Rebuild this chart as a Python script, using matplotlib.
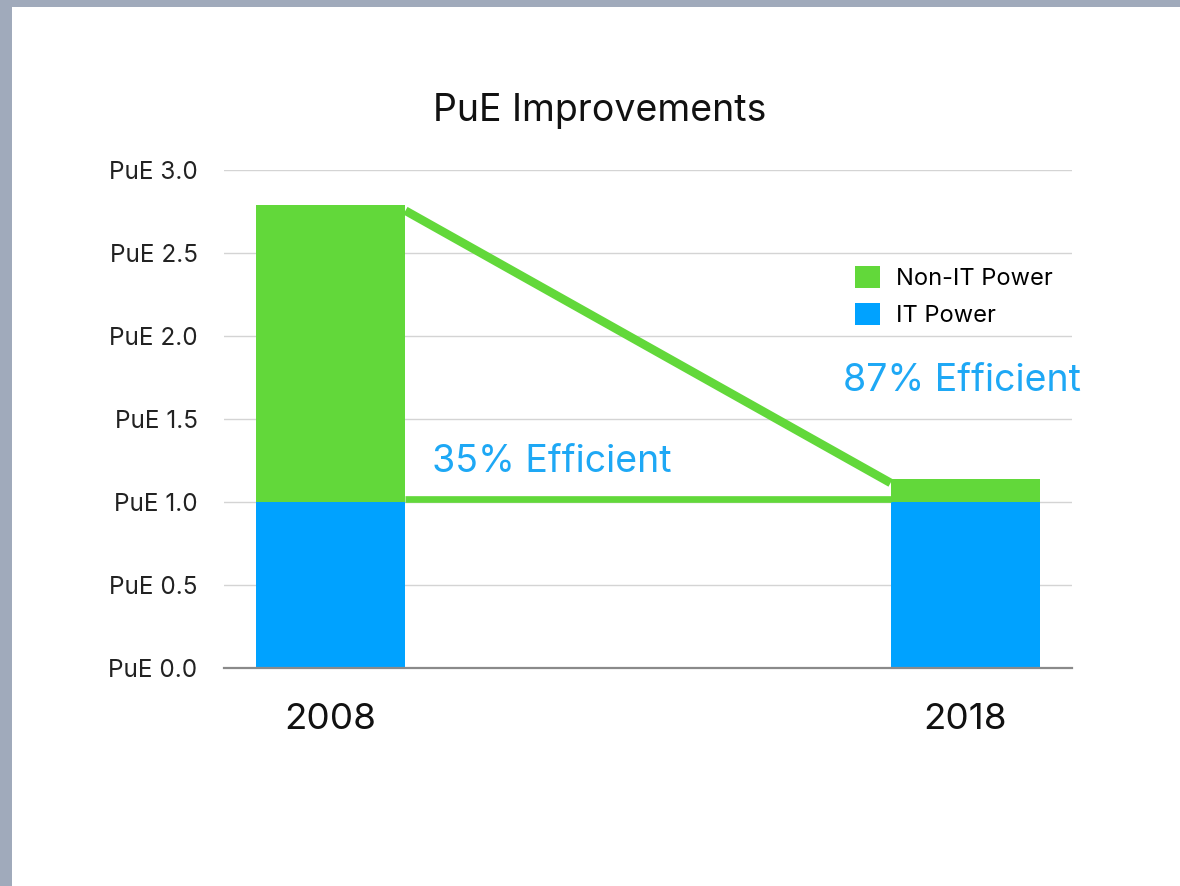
import matplotlib
matplotlib.use("Agg")
import matplotlib.pyplot as plt
from matplotlib.patches import Patch, Rectangle

plt.rcParams['font.family'] = ['Inter', 'DejaVu Sans']

years = ["2008", "2018"]
it_power = [1.0, 1.0]
non_it_power = [1.79, 0.14]
efficiency_labels = ["35% Efficient", "87% Efficient"]
y_ticks = [0.0, 0.5, 1.0, 1.5, 2.0, 2.5, 3.0]
y_tick_labels = ["PuE 0.0", "PuE 0.5", "PuE 1.0", "PuE 1.5", "PuE 2.0", "PuE 2.5", "PuE 3.0"]

GREEN = "#62d83a"
BLUE = "#00a2ff"
TEXT_BLUE = "#1ea8f5"

W, H = 1180, 886
fig = plt.figure(figsize=(W / 100, H / 100), dpi=100)
fig.patch.set_facecolor("#a0aabb")
fig.add_artist(Rectangle((12 / W, 0), 1 - 12 / W, 1 - 7 / H, transform=fig.transFigure,
                         facecolor="white", edgecolor="none", zorder=0))

ax = fig.add_axes([224 / W, 1 - 668 / H, 848 / W, (668 - 170) / H])
ax.set_facecolor("none")

x = [0, 1]
bw = 0.236
ax.bar(x, it_power, width=bw, color=BLUE, zorder=3, label="IT Power")
ax.bar(x, non_it_power, width=bw, bottom=it_power, color=GREEN, zorder=3, label="Non-IT Power")

# efficiency outline (triangle)
x1r = x[0] + bw / 2
x2l = x[1] - bw / 2
top1 = it_power[0] + non_it_power[0]
top2 = it_power[1] + non_it_power[1]
ax.plot([x1r, x2l], [top1 - 0.035, top2 - 0.025], color=GREEN, lw=6.2, zorder=4,
        solid_capstyle="butt")
ax.plot([x1r, x2l], [1.02, 1.02], color=GREEN, lw=4.8, zorder=4, solid_capstyle="butt")

ax.text(0.16, 1.24, efficiency_labels[0], color=TEXT_BLUE, fontsize=27, va="center", ha="left")
ax.text(0.807, 1.73, efficiency_labels[1], color=TEXT_BLUE, fontsize=27, va="center", ha="left")

ax.set_xlim(-0.1677, 1.1677)
ax.set_ylim(0, 3.0)
ax.set_yticks(y_ticks)
ax.set_yticklabels(y_tick_labels, fontsize=17.5, color="#222222")
ax.set_xticks(x)
ax.set_xticklabels(years, fontsize=26.5, color="#111111")
ax.tick_params(axis="y", length=0, pad=19)
ax.tick_params(axis="x", length=0, pad=25)
ax.yaxis.grid(True, color="#d4d4d4", lw=1.0, zorder=0)
ax.set_axisbelow(True)
for s in ["top", "right", "left"]:
    ax.spines[s].set_visible(False)
ax.spines["bottom"].set_color("#8a8a8a")
ax.spines["bottom"].set_linewidth(1.6)
ax.spines["bottom"].set_zorder(5)

handles = [Patch(facecolor=GREEN, edgecolor="none"), Patch(facecolor=BLUE, edgecolor="none")]
ax.legend(handles, ["Non-IT Power", "IT Power"], loc="upper left",
          bbox_to_anchor=(855 / W, 1 - 266 / H), bbox_transform=fig.transFigure,
          frameon=False, fontsize=17, handlelength=1.06, handleheight=1.06,
          handletextpad=0.68, labelspacing=0.56, borderpad=0, borderaxespad=0)

fig.text(600 / W, 1 - 121 / H, "PuE Improvements", fontsize=27, ha="center", va="baseline",
         color="#111111")

fig.savefig("out.png", dpi=100, facecolor=fig.get_facecolor())
